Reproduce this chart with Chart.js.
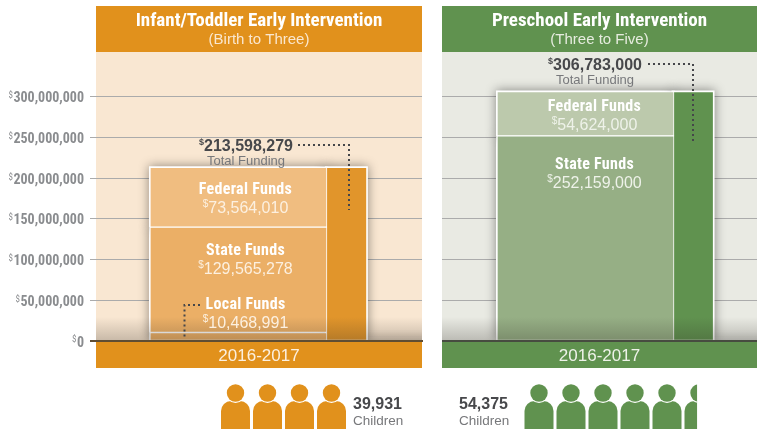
<!DOCTYPE html>
<html>
<head>
<meta charset="utf-8">
<style>
  html, body { margin: 0; padding: 0; background: #fff; overflow: hidden; }
  canvas { position: absolute; top: 0; }
  #infantChart { left: 0; }
  #preschoolChart { left: 442px; }
</style>
<script src="https://cdn.jsdelivr.net/npm/chart.js@4/dist/chart.umd.js"></script>
</head>
<body>
<canvas id="infantChart" width="423" height="429"></canvas>
<canvas id="preschoolChart" width="315" height="429"></canvas>
<script>
const yearLabel = "2016-2017";
const columnLabels = ["Funding sources", "Total funding"];
const yTickValues = [0, 50000000, 100000000, 150000000, 200000000, 250000000, 300000000];

const infantLocal = [10468991, null];
const infantState = [129565278, null];
const infantFederal = [73564010, null];
const infantTotal = [null, 213598279];
const infantChildren = 39931;

const preschoolState = [252159000, null];
const preschoolFederal = [54624000, null];
const preschoolTotal = [null, 306783000];
const preschoolChildren = 54375;

const childrenPerIcon = 10000;

const NARROW = '"Roboto Condensed"';
const SANS = '"Liberation Sans"';
const GRID_GREY = "#ababab";

// category scale whose columns are not evenly spaced
class PanelColumnScale extends Chart.CategoryScale {
    static id = "panelColumns";
    static defaults = {};
    getPixelForValue(value) {
        const index = typeof value === "number" ? value : this.parse(value);
        return this.left + this.width * this.options.centres[index];
    }
}
Chart.register(PanelColumnScale);

function drawText(ctx, text, x, y, font, color, align = "center", spacing = "0px") {
    ctx.save();
    ctx.font = font;
    ctx.fillStyle = color;
    ctx.textAlign = align;
    ctx.textBaseline = "middle";
    ctx.letterSpacing = spacing;
    ctx.fillText(text, x, y);
    ctx.restore();
}

// number with the small raised dollar sign in front of it
function drawAmount(ctx, value, x, y, font, smallFont, color, align) {
    const text = value.toLocaleString("en-US");
    ctx.save();
    ctx.font = font;
    const textWidth = ctx.measureText(text).width;
    ctx.font = smallFont;
    const signWidth = ctx.measureText("$").width;
    ctx.restore();
    const right = align === "right" ? x : x + (textWidth + signWidth) / 2;
    drawText(ctx, text, right, y, font, color, "right");
    drawText(ctx, "$", right - textWidth - signWidth, y - 4, smallFont, color, "left");
}

function drawDotted(ctx, points) {
    ctx.save();
    ctx.strokeStyle = "#45464a";
    ctx.lineWidth = 2;
    ctx.setLineDash([2, 3]);
    ctx.beginPath();
    points.forEach((p, i) => i == 0 ? ctx.moveTo(p[0], p[1]) : ctx.lineTo(p[0], p[1]));
    ctx.stroke();
    ctx.restore();
}

function drawPerson(ctx, x, color) {
    ctx.fillStyle = color;
    ctx.beginPath();
    ctx.roundRect(x, 401, 29, 40, [10, 10, 4, 4]);
    ctx.fill();
    ctx.fillStyle = "#fff";
    ctx.beginPath();
    ctx.arc(x + 14.5, 393, 10, 0, Math.PI * 2);
    ctx.fill();
    ctx.fillStyle = color;
    ctx.beginPath();
    ctx.arc(x + 14.5, 393, 8.7, 0, Math.PI * 2);
    ctx.fill();
}

function drawPeople(ctx, panel) {
    const icons = panel.children / childrenPerIcon;
    for (let i = 0; i < Math.ceil(icons); i++) {
        const x = panel.peopleX + i * 32;
        ctx.save();
        ctx.beginPath();
        ctx.rect(x - 1, 380, 31 * Math.min(1, icons - i), 60);
        ctx.clip();
        drawPerson(ctx, x, panel.strong);
        ctx.restore();
    }
    drawText(ctx, panel.children.toLocaleString("en-US"), panel.childrenX, 405, "bold 16px " + SANS, "#47484b", "left");
    drawText(ctx, "Children", panel.childrenX, 421, "13.5px " + SANS, "#77787b", "left");
}

function panelPlugin(panel) {
    return {
        id: "panelPlugin",
        beforeDraw(chart) {
            const ctx = chart.ctx;
            const area = chart.chartArea;
            ctx.fillStyle = panel.strong;
            ctx.fillRect(area.left, 6, area.width, area.top - 6);
            ctx.fillRect(area.left, area.bottom, area.width, 27);
            ctx.fillStyle = panel.pale;
            ctx.fillRect(area.left, area.top, area.width, area.height);
        },
        beforeDatasetsDraw(chart) {
            const ctx = chart.ctx;
            const area = chart.chartArea;
            ctx.save();
            ctx.beginPath();
            ctx.rect(area.left, area.top, area.width, area.height);
            ctx.clip();
            ctx.shadowColor = "rgba(0,0,0,0.42)";
            ctx.shadowBlur = 10;
            ctx.fillStyle = "#fff";
            chart.getSortedVisibleDatasetMetas().forEach(meta => {
                meta.data.forEach(bar => {
                    if (bar.skip) return;
                    ctx.fillRect(bar.x - bar.width / 2 - 1, bar.y - 1, bar.width + 2, bar.base - bar.y + 1);
                });
            });
            ctx.restore();
        },
        afterDatasetsDraw(chart) {
            const ctx = chart.ctx;
            const area = chart.chartArea;
            const shade = ctx.createLinearGradient(0, area.bottom - 24, 0, area.bottom);
            shade.addColorStop(0, "rgba(40,35,30,0)");
            shade.addColorStop(1, "rgba(40,35,30,0.24)");
            ctx.fillStyle = shade;
            ctx.fillRect(area.left, area.bottom - 24, area.width, 24);

            ctx.fillStyle = panel.baseline;
            ctx.fillRect(area.left - panel.tickLength, area.bottom - 1, area.width + panel.tickLength + 1, 2);

            panel.segments.forEach(s => {
                drawText(ctx, s.title, panel.labelX, s.y, "bold 16px " + NARROW, "#fff", "center", "0.3px");
                drawAmount(ctx, s.values[0], panel.labelX, s.y + 18.5, "16px " + SANS, "10px " + SANS, panel.amountColor);
            });

            drawAmount(ctx, panel.total, panel.totalRight, panel.totalY, "bold 16px " + SANS, "bold 9px " + SANS, "#47484b", "right");
            drawText(ctx, "Total Funding", panel.totalRight - 47, panel.totalY + 14.5, "13px " + SANS, "#77787b");
            panel.dotted.forEach(points => drawDotted(ctx, points));

            if (panel.showAxis) {
                const yScale = chart.scales.y;
                yScale.ticks.forEach(tick => {
                    ctx.font = "bold 14px " + NARROW;
                    const width = ctx.measureText(tick.label).width;
                    drawText(ctx, "$", 84 - width - 0.5, yScale.getPixelForValue(tick.value) - 1, "9px " + NARROW, "#8a8c8f", "right");
                });
            }

            drawPeople(ctx, panel);
        }
    };
}

function stackedDataset(label, values, color, thickness) {
    return {
        label: label,
        data: values,
        backgroundColor: color,
        borderColor: "#fff",
        borderWidth: 1,
        borderSkipped: false,
        barThickness: thickness,
    };
}

function makeChart(chartID, panel) {
    const config = {
        type: "bar",
        data: { labels: columnLabels, datasets: panel.datasets },
        options: {
            responsive: false,
            animation: false,
            events: [],
            layout: { padding: { top: 0, right: panel.rightPadding, left: 0, bottom: 0 } },
            plugins: {
                legend: { display: false },
                tooltip: { enabled: false },
                title: {
                    display: true,
                    text: panel.title,
                    fullSize: false,
                    color: "#fff",
                    font: { family: NARROW, size: 19, weight: "bold", lineHeight: 1.05 },
                    padding: { top: 11, bottom: 0 },
                },
                subtitle: {
                    display: true,
                    text: panel.subtitle,
                    fullSize: false,
                    color: panel.subtitleColor,
                    font: { family: SANS, size: 15, weight: "normal", lineHeight: 1.2 },
                    padding: { top: 0, bottom: 3.05 },
                },
            },
            scales: {
                x: {
                    type: "panelColumns",
                    stacked: true,
                    centres: panel.centres,
                    grid: { display: false },
                    border: { display: false },
                    ticks: { display: false },
                    title: {
                        display: true,
                        text: yearLabel,
                        color: panel.amountColor,
                        font: { family: SANS, size: 17, lineHeight: 1.2 },
                        padding: { top: 0, bottom: 62.5 },
                    },
                    afterFit: scale => { scale.height = 88; },
                },
                y: {
                    stacked: true,
                    min: 0,
                    max: 355300000,
                    border: { display: false },
                    grid: {
                        color: GRID_GREY,
                        lineWidth: 1,
                        drawTicks: panel.showAxis,
                        tickLength: panel.tickLength,
                        tickColor: GRID_GREY,
                    },
                    ticks: {
                        display: panel.showAxis,
                        padding: 6,
                        labelOffset: 2,
                        color: "#8a8c8f",
                        font: { family: NARROW, size: 14, weight: "bold" },
                        callback: value => value.toLocaleString("en-US"),
                    },
                    afterBuildTicks: scale => { scale.ticks = yTickValues.map(v => ({ value: v })); },
                    afterFit: scale => { scale.width = panel.showAxis ? 96 : 0; },
                },
            },
        },
        plugins: [panelPlugin(panel)],
    };
    return new Chart(document.getElementById(chartID), config);
}

makeChart("infantChart", {
    title: "Infant/Toddler Early Intervention",
    subtitle: "(Birth to Three)",
    subtitleColor: "#fae7cf",
    amountColor: "#fcf0e0",
    strong: "#e1911c",
    pale: "#f9e7d2",
    baseline: "#5f4d33",
    showAxis: true,
    tickLength: 6,
    rightPadding: 1,
    centres: [0.437, 0.768],
    labelX: 245.5,
    segments: [
        { title: "Federal Funds", values: infantFederal, y: 190 },
        { title: "State Funds", values: infantState, y: 251 },
        { title: "Local Funds", values: infantLocal, y: 305 },
    ],
    total: infantTotal[1],
    totalRight: 293,
    totalY: 147,
    dotted: [
        [[298, 145], [349, 145], [349, 210]],
        [[200, 305], [184.5, 305], [184.5, 337]],
    ],
    children: infantChildren,
    peopleX: 221,
    childrenX: 353,
    datasets: [
        stackedDataset("Local Funds", infantLocal, "#ebaf66", 177),
        stackedDataset("State Funds", infantState, "#ebaf66", 177),
        stackedDataset("Federal Funds", infantFederal, "#f0bd80", 177),
        stackedDataset("Total Funding", infantTotal, "#e1952b", 41),
    ],
});

makeChart("preschoolChart", {
    title: "Preschool Early Intervention",
    subtitle: "(Three to Five)",
    subtitleColor: "#e6ecdf",
    amountColor: "#eef2e9",
    strong: "#60924f",
    pale: "#e9eae3",
    baseline: "#474c40",
    showAxis: false,
    tickLength: 0,
    rightPadding: 0,
    centres: [0.4556, 0.797],
    labelX: 152.5,
    segments: [
        { title: "Federal Funds", values: preschoolFederal, y: 107 },
        { title: "State Funds", values: preschoolState, y: 165 },
    ],
    total: preschoolTotal[1],
    totalRight: 200,
    totalY: 66,
    dotted: [
        [[206, 64], [251, 64], [251, 143]],
    ],
    children: preschoolChildren,
    peopleX: 82.5,
    childrenX: 17,
    datasets: [
        stackedDataset("State Funds", preschoolState, "#96af85", 177),
        stackedDataset("Federal Funds", preschoolFederal, "#bcc9ac", 177),
        stackedDataset("Total Funding", preschoolTotal, "#60924f", 41),
    ],
});
</script>
</body>
</html>
